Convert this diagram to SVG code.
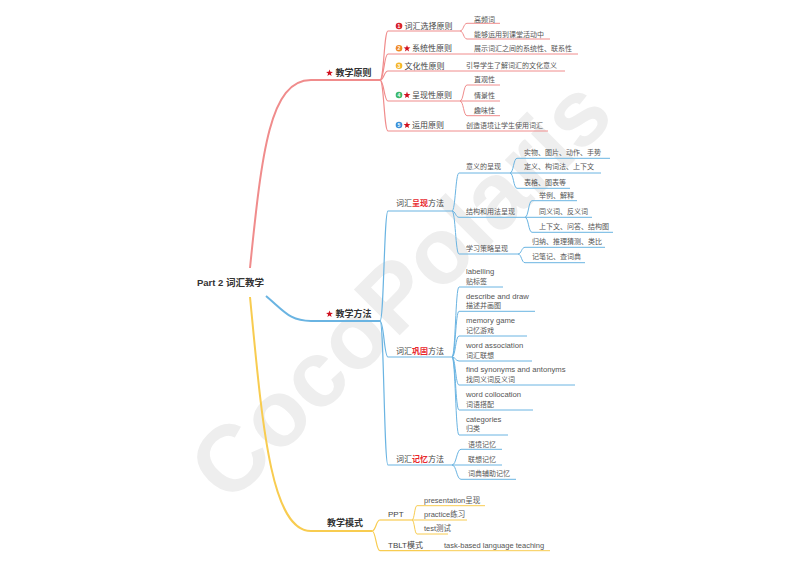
<svg xmlns="http://www.w3.org/2000/svg" xmlns:xlink="http://www.w3.org/1999/xlink" width="800" height="566" viewBox="0 0 800 566">
<defs>
<style>
text{font-family:"Liberation Sans","Noto Sans CJK SC",sans-serif}
.r{stroke:#f08c8c;fill:none}
.b{stroke:#6ab4e2;fill:none}
.y{stroke:#f8cc50;fill:none}
.m{stroke-width:2}
.l1{stroke-width:1.2}
.l2{stroke-width:1}
.t0{font-size:9.5px;font-weight:bold;fill:#333}
.t1{font-size:9px;font-weight:bold;fill:#333}
.t2{font-size:8px;fill:#444}
.t3{font-size:7px;fill:#555}
.en{font-size:7.7px;fill:#555}
.mx{font-size:7.5px;fill:#555}
.hl{fill:#e8262c;font-weight:bold}
.num{font-size:5px;font-weight:bold;fill:#fff;text-anchor:middle}
.wm{font-size:94px;font-weight:bold;fill:#eeeeee}
</style>
<polygon id="star" fill="#d0101e" points="0,-3.6 0.85,-1.17 3.42,-1.11 1.37,0.44 2.12,2.91 0,1.44 -2.12,2.91 -1.37,0.44 -3.42,-1.11 -0.85,-1.17"/>
</defs>
<rect width="800" height="566" fill="#fff"/>
<text class="wm" transform="translate(229,506) rotate(-45)">CocoPolaris</text>

<g id="connectors">
<path class="r m" d="M250,268 C262,150 270,80 311,80"/>
<path class="b m" d="M266,296 C285,312 290,321 311,321"/>
<path class="y m" d="M250,297 C262,420 270,531 311,531"/>
<g class="r l1">
<path d="M380,80 C384,80 384,31 388,31"/>
<path d="M380,80 C384,80 384,54 388,54"/>
<path d="M380,80 C384,80 384,71 388,71"/>
<path d="M380,80 C384,80 384,101 388,101"/>
<path d="M380,80 C384,80 384,131 388,131"/>
</g>
<g class="r l2">
<path d="M460,31 C463.5,31 463.5,23.3 467,23.3"/>
<path d="M460,31 C463.5,31 463.5,39 467,39"/>
<path d="M460,54 H467"/>
<path d="M451,71 H458"/>
<path d="M460,101 C463.5,101 463.5,85 467,85"/>
<path d="M460,101 H467"/>
<path d="M460,101 C463.5,101 463.5,115.7 467,115.7"/>
<path d="M451,131 H458"/>
</g>
<g class="b l1">
<path d="M380,321 C384,321 384,211 388,211"/>
<path d="M380,321 C384,321 384,357 388,357"/>
<path d="M380,321 C384,321 384,465 388,465"/>
</g>
<g class="b l2">
<path d="M452,211 C455.5,211 455.5,173 459,173"/>
<path d="M452,211 C455.5,211 455.5,217.3 459,217.3"/>
<path d="M452,211 C455.5,211 455.5,254 459,254"/>
<path d="M510,173 C513.5,173 513.5,158.3 517,158.3"/>
<path d="M510,173 H517"/>
<path d="M510,173 C513.5,173 513.5,188.3 517,188.3"/>
<path d="M525,217.3 C528.5,217.3 528.5,200.7 532,200.7"/>
<path d="M525,217.3 H532"/>
<path d="M525,217.3 C528.5,217.3 528.5,232.3 532,232.3"/>
<path d="M518,254 C521.5,254 521.5,247.3 525,247.3"/>
<path d="M518,254 C521.5,254 521.5,262.7 525,262.7"/>
<path d="M452,357 C455.5,357 455.5,287 459,287"/>
<path d="M452,357 C455.5,357 455.5,311.3 459,311.3"/>
<path d="M452,357 C455.5,357 455.5,336 459,336"/>
<path d="M452,357 C455.5,357 455.5,361 459,361"/>
<path d="M452,357 C455.5,357 455.5,385 459,385"/>
<path d="M452,357 C455.5,357 455.5,410 459,410"/>
<path d="M452,357 C455.5,357 455.5,435 459,435"/>
<path d="M452,465 C456.5,465 456.5,449.3 461,449.3"/>
<path d="M452,465 H461"/>
<path d="M452,465 C456.5,465 456.5,479.3 461,479.3"/>
</g>
<g class="y l1">
<path d="M372,531 C376,531 376,520 380,520"/>
<path d="M372,531 C376,531 376,550.7 380,550.7"/>
</g>
<g class="y l2">
<path d="M412,520 C414.5,520 414.5,505.7 417,505.7"/>
<path d="M412,520 H417"/>
<path d="M412,520 C414.5,520 414.5,534 417,534"/>
<path d="M430,550.7 H437"/>
</g>
</g>

<g id="root"><text class="t0" x="197" y="285.5">Part 2 词汇教学</text></g>

<!-- red branch -->
<g id="n-principles"><line class="r m" x1="311" y1="80" x2="380" y2="80"/><use xlink:href="#star" x="329.5" y="73"/><text class="t1" x="335.5" y="76.3">教学原则</text></g>
<g id="n-p1"><line class="r l1" x1="388" y1="31" x2="460" y2="31"/><circle cx="399" cy="26" r="3.3" fill="#d9232b"/><text class="num" x="399" y="27.8">1</text><text class="t2" x="404.5" y="29">词汇选择原则</text></g>
<g id="n-p1a"><line class="r l2" x1="467" y1="23.3" x2="500" y2="23.3"/><text class="t3" x="474" y="21.5">高频词</text></g>
<g id="n-p1b"><line class="r l2" x1="467" y1="39" x2="550" y2="39"/><text class="t3" x="474" y="36.5">能够运用到课堂活动中</text></g>
<g id="n-p2"><line class="r l1" x1="388" y1="54" x2="460" y2="54"/><circle cx="399" cy="48.3" r="3.3" fill="#f08a24"/><text class="num" x="399" y="50.1">2</text><use xlink:href="#star" x="407" y="48.5"/><text class="t2" x="412" y="51.3">系统性原则</text></g>
<g id="n-p2a"><line class="r l2" x1="467" y1="54" x2="578" y2="54"/><text class="t3" x="474" y="50.8">展示词汇之间的系统性、联系性</text></g>
<g id="n-p3"><line class="r l1" x1="388" y1="71" x2="451" y2="71"/><circle cx="399" cy="65.7" r="3.3" fill="#f5b72a"/><text class="num" x="399" y="67.5">3</text><text class="t2" x="404.5" y="68.7">文化性原则</text></g>
<g id="n-p3a"><line class="r l2" x1="458" y1="71" x2="565" y2="71"/><text class="t3" x="466" y="68.2">引导学生了解词汇的文化意义</text></g>
<g id="n-p4"><line class="r l1" x1="388" y1="101" x2="460" y2="101"/><circle cx="399" cy="95" r="3.3" fill="#3db86a"/><text class="num" x="399" y="96.8">4</text><use xlink:href="#star" x="407" y="95.2"/><text class="t2" x="412" y="98">呈现性原则</text></g>
<g id="n-p4a"><line class="r l2" x1="467" y1="85" x2="500" y2="85"/><text class="t3" x="474" y="81.8">直观性</text></g>
<g id="n-p4b"><line class="r l2" x1="467" y1="101" x2="500" y2="101"/><text class="t3" x="474" y="97.5">情景性</text></g>
<g id="n-p4c"><line class="r l2" x1="467" y1="115.7" x2="500" y2="115.7"/><text class="t3" x="474" y="113.2">趣味性</text></g>
<g id="n-p5"><line class="r l1" x1="388" y1="131" x2="451" y2="131"/><circle cx="399" cy="125" r="3.3" fill="#3c8fd8"/><text class="num" x="399" y="126.8">5</text><use xlink:href="#star" x="407" y="125.2"/><text class="t2" x="412" y="128">运用原则</text></g>
<g id="n-p5a"><line class="r l2" x1="458" y1="131" x2="548" y2="131"/><text class="t3" x="466" y="127.5">创造语境让学生使用词汇</text></g>

<!-- blue branch -->
<g id="n-methods"><line class="b m" x1="311" y1="321" x2="380" y2="321"/><use xlink:href="#star" x="329.5" y="314"/><text class="t1" x="335.5" y="317.3">教学方法</text></g>
<g id="n-m1"><line class="b l1" x1="388" y1="211" x2="452" y2="211"/><text class="t2" x="396" y="206.3">词汇<tspan class="hl">呈现</tspan>方法</text></g>
<g id="n-m1a"><line class="b l2" x1="459" y1="173" x2="510" y2="173"/><text class="t3" x="466" y="169.2">意义的呈现</text></g>
<g id="n-m1a1"><line class="b l2" x1="517" y1="158.3" x2="610" y2="158.3"/><text class="t3" x="524" y="154.8">实物、图片、动作、手势</text></g>
<g id="n-m1a2"><line class="b l2" x1="517" y1="173" x2="601" y2="173"/><text class="t3" x="524" y="169.2">定义、构词法、上下文</text></g>
<g id="n-m1a3"><line class="b l2" x1="517" y1="188.3" x2="570" y2="188.3"/><text class="t3" x="524" y="185.2">表格、图表等</text></g>
<g id="n-m1b"><line class="b l2" x1="459" y1="217.3" x2="525" y2="217.3"/><text class="t3" x="466" y="214.2">结构和用法呈现</text></g>
<g id="n-m1b1"><line class="b l2" x1="532" y1="200.7" x2="577" y2="200.7"/><text class="t3" x="539" y="197.5">举例、解释</text></g>
<g id="n-m1b2"><line class="b l2" x1="532" y1="217.3" x2="592" y2="217.3"/><text class="t3" x="539" y="214.2">同义词、反义词</text></g>
<g id="n-m1b3"><line class="b l2" x1="532" y1="232.3" x2="613" y2="232.3"/><text class="t3" x="539" y="229.2">上下文、问答、结构图</text></g>
<g id="n-m1c"><line class="b l2" x1="459" y1="254" x2="518" y2="254"/><text class="t3" x="466" y="250.8">学习策略呈现</text></g>
<g id="n-m1c1"><line class="b l2" x1="525" y1="247.3" x2="605" y2="247.3"/><text class="t3" x="532" y="244.2">归纳、推理猜测、类比</text></g>
<g id="n-m1c2"><line class="b l2" x1="525" y1="262.7" x2="585" y2="262.7"/><text class="t3" x="532" y="259.2">记笔记、查词典</text></g>

<g id="n-m2"><line class="b l1" x1="388" y1="357" x2="452" y2="357"/><text class="t2" x="396" y="353.7">词汇<tspan class="hl">巩固</tspan>方法</text></g>
<g id="n-m2a"><line class="b l2" x1="459" y1="287" x2="503" y2="287"/><text class="en" x="466" y="274">labelling</text><text class="t3" x="466" y="283.8">贴标签</text></g>
<g id="n-m2b"><line class="b l2" x1="459" y1="311.3" x2="535" y2="311.3"/><text class="en" x="466" y="298.7">describe and draw</text><text class="t3" x="466" y="307.8">描述并画图</text></g>
<g id="n-m2c"><line class="b l2" x1="459" y1="336" x2="527" y2="336"/><text class="en" x="466" y="323">memory game</text><text class="t3" x="466" y="332.8">记忆游戏</text></g>
<g id="n-m2d"><line class="b l2" x1="459" y1="361" x2="532" y2="361"/><text class="en" x="466" y="347.7">word association</text><text class="t3" x="466" y="357.5">词汇联想</text></g>
<g id="n-m2e"><line class="b l2" x1="459" y1="385" x2="575" y2="385"/><text class="en" x="466" y="372">find synonyms and antonyms</text><text class="t3" x="466" y="381.5">找同义词反义词</text></g>
<g id="n-m2f"><line class="b l2" x1="459" y1="410" x2="533" y2="410"/><text class="en" x="466" y="397">word collocation</text><text class="t3" x="466" y="406.5">词语搭配</text></g>
<g id="n-m2g"><line class="b l2" x1="459" y1="435" x2="508" y2="435"/><text class="en" x="466" y="421.7">categories</text><text class="t3" x="466" y="430.8">归类</text></g>

<g id="n-m3"><line class="b l1" x1="388" y1="465" x2="452" y2="465"/><text class="t2" x="396" y="462">词汇<tspan class="hl">记忆</tspan>方法</text></g>
<g id="n-m3a"><line class="b l2" x1="461" y1="449.3" x2="502" y2="449.3"/><text class="t3" x="468" y="446.5">语境记忆</text></g>
<g id="n-m3b"><line class="b l2" x1="461" y1="465" x2="502" y2="465"/><text class="t3" x="468" y="461.5">联想记忆</text></g>
<g id="n-m3c"><line class="b l2" x1="461" y1="479.3" x2="516" y2="479.3"/><text class="t3" x="468" y="475.8">词典辅助记忆</text></g>

<!-- yellow branch -->
<g id="n-modes"><line class="y m" x1="311" y1="531" x2="372" y2="531"/><text class="t1" x="327" y="526">教学模式</text></g>
<g id="n-ppt"><line class="y l1" x1="380" y1="520" x2="412" y2="520"/><text class="t2" x="388" y="517.3">PPT</text></g>
<g id="n-ppt1"><line class="y l2" x1="417" y1="505.7" x2="485" y2="505.7"/><text class="mx" x="424" y="502.7">presentation呈现</text></g>
<g id="n-ppt2"><line class="y l2" x1="417" y1="520" x2="467" y2="520"/><text class="mx" x="424" y="517">practice练习</text></g>
<g id="n-ppt3"><line class="y l2" x1="417" y1="534" x2="448" y2="534"/><text class="mx" x="424" y="531">test测试</text></g>
<g id="n-tblt"><line class="y l1" x1="380" y1="550.7" x2="430" y2="550.7"/><text class="t2" x="388" y="548">TBLT模式</text></g>
<g id="n-tblt1"><line class="y l2" x1="437" y1="550.7" x2="550" y2="550.7"/><text class="mx" x="444" y="547.7">task-based language teaching</text></g>
</svg>
